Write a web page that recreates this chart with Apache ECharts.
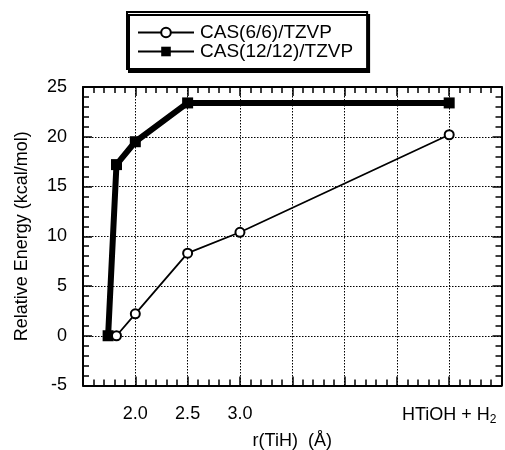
<!DOCTYPE html>
<html>
<head>
<meta charset="utf-8">
<script src="https://cdn.jsdelivr.net/npm/echarts@6/dist/echarts.min.js"></script>
<style>
html,body{margin:0;padding:0;background:#fff;}
#c{width:505px;height:450px;}
</style>
</head>
<body>
<div id="c"></div>
<script>
// ---- data ----
var seriesNames = ['CAS(6/6)/TZVP', 'CAS(12/12)/TZVP'];
var cas66X = [1.82, 2.0, 2.5, 3.0, 5.0];
var cas66Y = [0, 2.2, 8.3, 10.4, 20.2];
var cas1212X = [1.74, 1.82, 2.0, 2.5, 5.0];
var cas1212Y = [0, 17.2, 19.5, 23.4, 23.4];
var xTickValues = [2.0, 2.5, 3.0, 5.0];
var xTickLabels = ['2.0', '2.5', '3.0', 'HTiOH + H{sub|2}'];
var xAxisTitle = 'r(TiH)  (Å)';
var yAxisTitle = 'Relative Energy (kcal/mol)';

var FONT = "'Liberation Sans', Arial, Helvetica, sans-serif";

function pairs(xs, ys) {
  return xs.map(function (x, i) { return [x, ys[i]]; });
}

function tickCfg() {
  return {show: true, inside: true, length: 9, lineStyle: {color: '#000', width: 1.5}};
}
function minorCfg() {
  return {show: true, splitNumber: 5, length: 6, lineStyle: {color: '#000', width: 1.5}};
}
function lineCfg() {
  return {show: true, onZero: false, lineStyle: {color: '#000', width: 2}};
}

var chart = echarts.init(document.getElementById('c'), null, {renderer: 'canvas'});

var option = {
  backgroundColor: '#fff',
  animation: false,
  textStyle: {fontFamily: FONT, color: '#000'},
  grid: {left: 83, right: 3.5, top: 87, bottom: 64.5, containLabel: false, outerBoundsMode: 'none'},
  legend: {
    orient: 'vertical',
    left: 127, top: 12,
    padding: [11, 14, 8, 10],
    itemGap: 0,
    itemWidth: 56,
    itemHeight: 12,
    borderColor: '#000',
    borderWidth: 2,
    backgroundColor: '#fff',
    shadowColor: '#000',
    shadowOffsetX: 2,
    shadowOffsetY: 3,
    shadowBlur: 0,
    textStyle: {fontFamily: FONT, fontSize: 19, color: '#000', lineHeight: 18, padding: [0, 0, 0, 1]},
    data: seriesNames
  },
  xAxis: [
    {
      type: 'value', min: 1.5, max: 5.5, interval: 0.5,
      position: 'bottom',
      axisLine: lineCfg(),
      axisTick: tickCfg(),
      minorTick: minorCfg(),
      name: xAxisTitle, nameLocation: 'middle', nameGap: 47,
      nameTextStyle: {fontFamily: FONT, fontSize: 18, color: '#000'},
      axisLabel: {
        show: true, margin: 20, fontFamily: FONT, fontSize: 18, color: '#000',
        showMinLabel: true, showMaxLabel: true,
        formatter: function (v) {
          for (var i = 0; i < xTickValues.length; i++) {
            if (Math.abs(v - xTickValues[i]) < 1e-6) return xTickLabels[i];
          }
          return '';
        },
        rich: {sub: {fontFamily: FONT, fontSize: 12, color: '#000', verticalAlign: 'bottom', padding: [8, 0, 0, 0]}}
      },
      splitLine: {show: true, lineStyle: {color: '#000', width: 1, type: [1.5, 1.5]}}
    },
    {
      type: 'value', min: 1.5, max: 5.5, interval: 0.5,
      position: 'top',
      axisLine: lineCfg(),
      axisTick: tickCfg(),
      minorTick: minorCfg(),
      axisLabel: {show: false},
      splitLine: {show: false}
    }
  ],
  yAxis: [
    {
      type: 'value', min: -5, max: 25, interval: 5,
      position: 'left',
      axisLine: lineCfg(),
      axisTick: tickCfg(),
      minorTick: minorCfg(),
      name: yAxisTitle, nameLocation: 'middle', nameGap: 52, nameRotate: 90,
      nameTextStyle: {fontFamily: FONT, fontSize: 18, color: '#000'},
      axisLabel: {show: true, margin: 16, fontFamily: FONT, fontSize: 18, color: '#000'},
      splitLine: {show: true, lineStyle: {color: '#000', width: 1, type: [1.5, 1.5]}}
    },
    {
      type: 'value', min: -5, max: 25, interval: 5,
      position: 'right',
      axisLine: lineCfg(),
      axisTick: tickCfg(),
      minorTick: minorCfg(),
      axisLabel: {show: false},
      splitLine: {show: false}
    }
  ],
  series: [
    {
      name: seriesNames[0],
      type: 'line',
      data: pairs(cas66X, cas66Y),
      symbol: 'emptyCircle',
      symbolSize: 9,
      lineStyle: {color: '#000', width: 1.8},
      itemStyle: {color: '#000', borderColor: '#000', borderWidth: 1.6},
      z: 3
    },
    {
      name: seriesNames[1],
      type: 'line',
      data: pairs(cas1212X, cas1212Y),
      symbol: 'rect',
      symbolSize: 11,
      lineStyle: {color: '#000', width: 6},
      itemStyle: {color: '#000'},
      z: 2
    }
  ]
};
chart.setOption(option);
</script>
</body>
</html>
